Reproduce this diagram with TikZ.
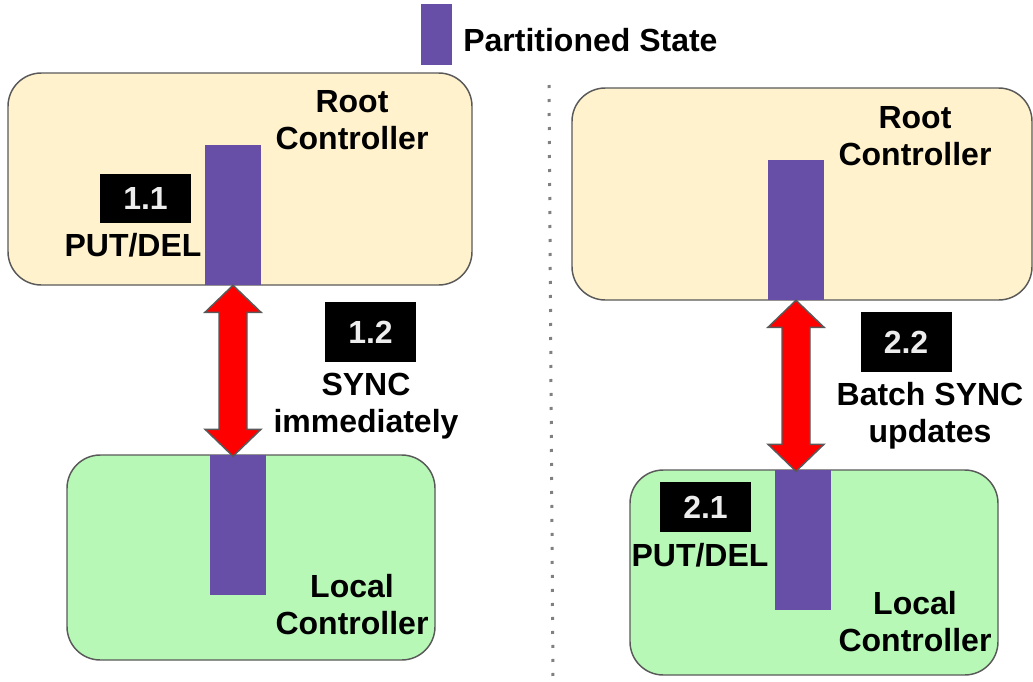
\documentclass[tikz,border=0pt]{standalone}
\usepackage{fontspec}
\setmainfont{Liberation Sans}
\usetikzlibrary{positioning}
\definecolor{rootfill}{RGB}{255,242,204}
\definecolor{localfill}{RGB}{183,248,183}
\definecolor{statepurple}{RGB}{103,78,167}
\definecolor{edgegray}{RGB}{89,89,89}

\begin{document}
\begin{tikzpicture}[x=0.75pt, y=-0.75pt,
    every node/.style={font=\fontsize{24}{27.75}\selectfont\bfseries, inner sep=0pt},
    ctrl/.style={rectangle, rounded corners=25pt, draw=edgegray, line width=1.1pt},
    rootctrl/.style={ctrl, fill=rootfill, minimum width=348pt, minimum height=159pt},
    localctrl/.style={ctrl, fill=localfill, minimum width=276pt, minimum height=153.75pt},
    statebar/.style={rectangle, fill=statepurple, minimum width=42pt, minimum height=105pt},
    stepbox/.style={rectangle, fill=black, text=white!93!black, minimum width=68.25pt},
    syncarrow/.style={fill=red, draw=edgegray, line width=1.1pt, line join=miter}
]
    \useasboundingbox (0,0) rectangle (1033,682);

    % Legend
    \node[rectangle, fill=statepurple, minimum width=23.25pt, minimum height=45.75pt] (legbar) at (436.5,34.5) {};
    \node[anchor=west] (legtext) at (463,40) {Partitioned State};

    % Divider
    \coordinate (divtop) at (549,85);
    \coordinate (divbot) at (553,682);
    \draw[gray, line width=2.25pt, dash pattern=on 2.25pt off 8.25pt] (divtop) -- (divbot);

    % Left side: sync immediately
    \node[rootctrl] (rootA) at (240,179) {};
    \node[localctrl] (localA) at (251,557.5) {};
    \node[statebar] (barRootA) at (233,215) {};
    \node[statebar] (barLocalA) at (237.5,525) {};
    \node[align=center] (rootAlbl) at (352,120) {Root\\Controller};
    \node[align=center] (localAlbl) at (352,605) {Local\\Controller};
    \node[stepbox, minimum height=36.75pt] (s11) at (145.5,198.5) {1.1};
    \node (putA) at (133,245) {PUT/DEL};
    \node[stepbox, minimum height=45pt] (s12) at (370.5,332) {1.2};
    \node[align=center] (syncA) at (366,406) {SYNC\\immediately};
    \draw[syncarrow] (barRootA.south) -- ++(28,27) -- ++(-14,0) -- ++(0,117) -- ++(14,0)
        -- ++(-28,27) -- ++(-28,-27) -- ++(14,0) -- ++(0,-117) -- ++(-14,0) -- cycle;

    % Right side: batch sync
    \node[rootctrl, minimum width=345pt] (rootB) at (802,194) {};
    \node[localctrl] (localB) at (814,572.5) {};
    \node[statebar] (barRootB) at (796,230) {};
    \node[statebar] (barLocalB) at (802.5,540) {};
    \node[align=center] (rootBlbl) at (915,136) {Root\\Controller};
    \node[align=center] (localBlbl) at (915,622) {Local\\Controller};
    \node[stepbox, minimum height=37.5pt] (s21) at (705.5,507) {2.1};
    \node (putB) at (700,555) {PUT/DEL};
    \node[stepbox, minimum height=45pt] (s22) at (906,342) {2.2};
    \node[align=center] (syncB) at (930,416) {Batch SYNC\\updates};
    \draw[syncarrow] (barRootB.south) -- ++(28,27) -- ++(-14,0) -- ++(0,117) -- ++(14,0)
        -- ++(-28,27) -- ++(-28,-27) -- ++(14,0) -- ++(0,-117) -- ++(-14,0) -- cycle;
\end{tikzpicture}
\end{document}
